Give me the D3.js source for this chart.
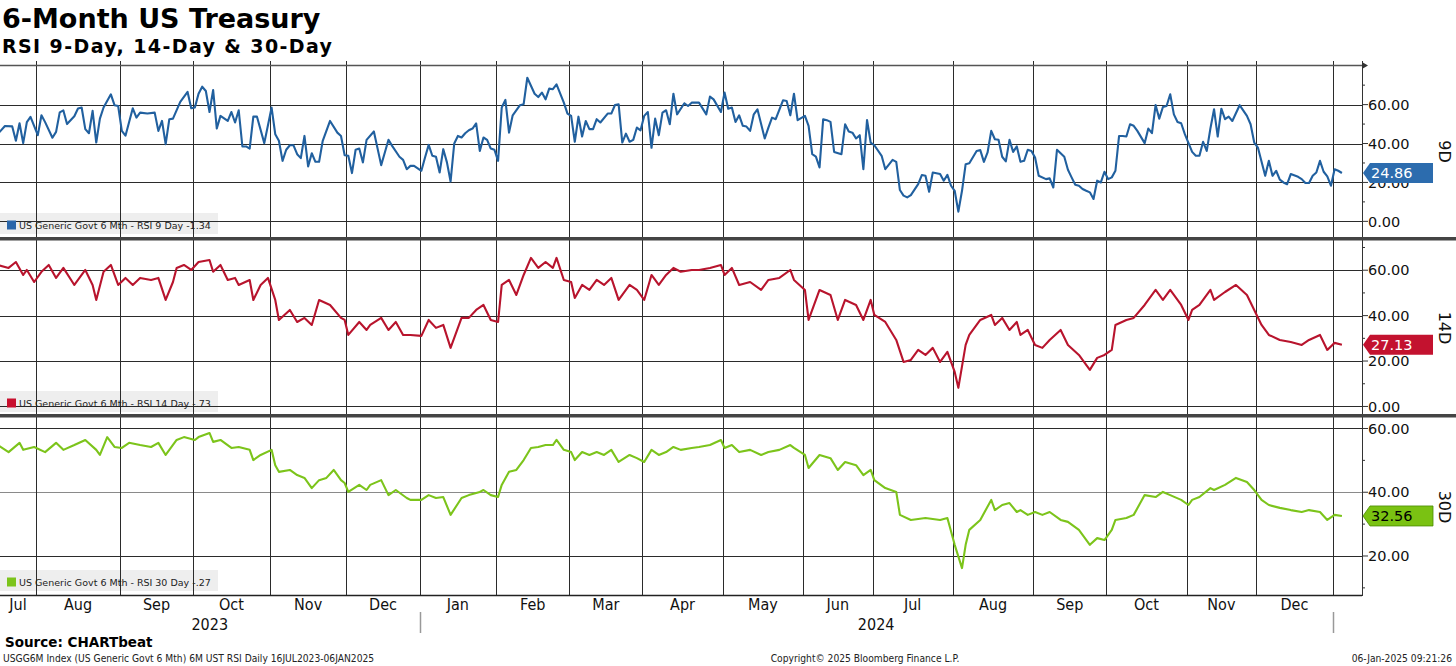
<!DOCTYPE html>
<html><head><meta charset="utf-8">
<script src="https://cdn.jsdelivr.net/npm/d3@7"></script>
<style>html,body{margin:0;padding:0;background:#fff;overflow:hidden}</style>
</head><body><svg id="c" width="1456" height="666"></svg>
<script>
const titleText = "6-Month US Treasury";
const subtitleText = "RSI 9-Day, 14-Day & 30-Day";
const firstSession = "2023-07-17";
const lastSession = "2025-01-06";
const holidays = ["2023-09-04","2023-10-09","2023-11-23","2023-12-25","2024-01-01","2024-01-15","2024-02-19","2024-03-29","2024-05-27","2024-06-19","2024-07-04","2024-09-02","2024-10-14","2024-11-11","2024-11-28","2024-12-25","2025-01-01"];
const monthNames = ["Jan","Feb","Mar","Apr","May","Jun","Jul","Aug","Sep","Oct","Nov","Dec"];

// [trading-session number since 17 Jul 2023, RSI value]
const rsi9 = [[0,44.8],[2,49],[4,48.8],[5,41.4],[6,50.4],[7,40.2],[8,51],[9,53.7],[11,44.3],[12,54.5],[13,51],[15,43],[16,46],[17,56],[18,57],[19,50],[21,54],[22,58],[23,58.5],[24,47.4],[25,45.3],[26,56.8],[27,40.5],[28,52.8],[29,58.5],[31,65.3],[32,59.7],[33,59.3],[34,46.5],[35,44],[37,58.1],[38,53.3],[39,55.9],[41,55.4],[43,55.9],[44,46.5],[45,51.6],[46,39.7],[47,52.5],[48,52.8],[50,61.4],[52,66.5],[53,58.1],[54,58.5],[55,65.6],[56,69.2],[57,67],[58,56.2],[59,67.5],[60,47.7],[61,54.2],[63,51.6],[64,56.2],[65,50.8],[66,57.1],[67,38.5],[68,38.5],[69,37.4],[70,53.8],[71,53.8],[73,40.2],[75,58.5],[76,44.8],[77,41.4],[78,31.1],[79,36.8],[80,39.1],[81,39.1],[82,34.5],[83,32.5],[84,43.9],[85,28.2],[86,35],[87,30.6],[88,30.6],[89,41.4],[91,51.6],[93,45.6],[94,43.9],[95,34],[96,33.7],[97,24.8],[98,36.8],[99,37.4],[100,30.3],[101,41.9],[103,46.2],[105,28.9],[106,35.4],[107,41.9],[108,38.8],[110,33.2],[111,31.6],[112,26.8],[113,28.5],[114,28.5],[116,26],[117,32.8],[118,39.3],[119,33.7],[120,33.2],[121,25.1],[122,37.1],[123,30.3],[124,20.5],[125,40],[126,43.9],[127,43.1],[128,45.3],[129,46.8],[130,47.7],[131,50.3],[132,36.2],[133,43.1],[134,41.9],[135,37.4],[136,36.8],[137,31.1],[138,58.5],[139,62.4],[140,45.6],[141,54.5],[143,59.7],[144,60.2],[145,73.8],[147,65.6],[148,63.9],[149,66.2],[150,62.7],[151,68.2],[152,67.9],[153,70.4],[155,61],[156,55.4],[157,54.2],[158,40.9],[159,53.8],[160,43.6],[161,51.6],[162,47.4],[163,47.4],[164,52.5],[165,50.8],[167,55.4],[168,55.4],[169,59.8],[170,60.2],[171,40.5],[172,45.1],[173,40.9],[174,41.9],[175,48.2],[176,46.8],[177,54.2],[178,56.2],[179,37.8],[180,52.8],[181,44.3],[182,55.9],[183,57.1],[184,49.9],[185,65.6],[186,55],[188,60.7],[189,59.3],[190,61],[192,61],[194,55],[195,64.1],[196,62.7],[198,56.2],[199,66.2],[200,57.9],[201,58.5],[202,51.1],[203,54.5],[204,49.1],[205,48.7],[206,46.5],[207,55],[208,57.6],[210,42.6],[211,48.2],[212,53.3],[213,52.5],[215,62.2],[216,61.9],[217,54.5],[218,65.6],[219,52],[221,54.2],[222,49.1],[223,34.5],[224,33.3],[225,27.7],[226,52.5],[227,52],[228,51.1],[229,35.7],[231,34.5],[232,49.9],[233,46.2],[234,45.6],[235,42.6],[236,44.3],[237,26.8],[238,52.1],[239,40.5],[240,39.1],[242,33.7],[243,26.8],[245,31.6],[246,30.6],[247,16.1],[248,13.2],[249,12.3],[250,13.5],[252,19.1],[253,23.8],[254,23.4],[255,15.2],[256,25.1],[258,24.3],[259,20.9],[260,23.9],[261,18.3],[262,15.7],[263,5],[264,15.7],[265,29.4],[266,29.9],[268,36.2],[269,36.6],[270,30.6],[271,35.4],[272,46.5],[273,42.2],[274,41.9],[275,33.2],[276,30.8],[277,41.9],[278,35.7],[279,38.5],[280,30.6],[281,31.1],[282,36.8],[283,36.2],[284,32.8],[285,23.4],[287,21.7],[288,22.1],[289,17.4],[290,36.8],[292,33.2],[293,26.5],[294,22.6],[295,18.8],[296,18.3],[297,16.6],[298,15.7],[299,14.9],[300,11.5],[301,20.9],[302,20],[303,25.5],[304,21.7],[305,22.6],[306,26],[307,43.9],[308,43.9],[309,43.6],[310,49.9],[311,49.1],[312,46.5],[314,40.2],[315,47.7],[316,45.3],[317,59.8],[318,52.8],[319,58.8],[320,59.3],[321,65.3],[322,55],[323,51.1],[324,50.4],[325,44.8],[327,35.7],[328,33.7],[329,33.7],[330,40.9],[331,36.2],[332,47.7],[333,57.6],[334,43.6],[335,57.9],[336,52.5],[337,53.8],[338,51.6],[340,59.7],[342,54.2],[343,49.9],[344,40.5],[345,37.9],[347,23.4],[348,31.1],[349,23.4],[350,26],[351,21.4],[352,20],[353,19.1],[354,24.3],[356,22.9],[357,21.7],[358,19.7],[359,19.7],[360,23.4],[361,25.1],[362,31.1],[363,25.5],[364,23.1],[365,18.3],[366,26.8],[367,26],[368,24.86]];

const rsi14 = [[0,62.3],[3,61],[5,63.6],[7,57.9],[8,60.1],[10,54.8],[12,59.3],[14,62.3],[16,56.6],[18,61],[21,53.5],[24,60.1],[26,53.5],[27,46.9],[29,59.3],[31,62.3],[33,53.5],[35,56.6],[37,53.5],[39,56.6],[42,55.7],[44,56.6],[46,46.9],[48,54.8],[49,61],[51,62.3],[53,60.1],[55,63.6],[58,64.5],[59,59.3],[61,62.3],[63,55.7],[65,56.6],[66,53.5],[69,55.7],[70,46.9],[72,53.5],[74,56.6],[76,46.9],[77,38.1],[80,42.5],[82,37.2],[84,39],[86,35.9],[88,46.9],[91,44.7],[94,39],[95,38.1],[96,31.5],[99,37.2],[101,33.7],[102,35.9],[105,39],[107,33.7],[109,37.2],[111,31.5],[113,31.5],[116,31.1],[118,38.1],[120,34.6],[122,35.9],[124,25.8],[127,39],[129,39],[131,42.5],[133,44.7],[135,38.1],[137,37.2],[138,53.5],[140,55.7],[142,49.1],[144,57.9],[146,65.4],[148,61],[150,63.6],[152,61],[153,65.4],[155,55.7],[157,54.8],[158,47.8],[160,53.5],[162,51.3],[164,55.7],[166,53.5],[168,56.6],[170,46.9],[173,53.5],[175,51.3],[177,46.9],[179,57.9],[181,53.5],[183,57.9],[185,61],[187,59.3],[190,60.1],[192,60.1],[195,61],[198,62.3],[199,57.9],[201,61],[203,53.5],[206,54.8],[209,51.3],[211,55.7],[214,56.6],[217,60.1],[218,55.7],[221,51.3],[222,38.1],[225,51.3],[228,49.1],[230,38.1],[232,46.9],[235,44.7],[237,38.1],[239,46.9],[240,40.3],[243,37.2],[246,29.3],[248,19.6],[250,20.5],[252,24.9],[254,22.7],[256,25.8],[258,19.6],[260,24],[262,15.2],[263,8.2],[265,27.1],[266,31.5],[269,38.1],[272,40.3],[273,35.9],[275,39],[277,33.7],[279,37.2],[280,31.5],[282,33.7],[284,27.1],[286,25.8],[288,29.3],[291,33.7],[293,27.1],[296,22.7],[299,16.1],[301,21.4],[303,22.7],[305,24.9],[306,35.9],[309,38.1],[311,39],[314,44.7],[317,51.3],[319,46.9],[321,51.3],[324,44.7],[326,38.1],[327,42.5],[329,44.7],[332,51.3],[333,46.9],[336,50.4],[339,53.5],[342,49.1],[344,42.5],[346,35.9],[348,31.5],[351,29.3],[354,28.4],[357,27.1],[359,29.3],[362,31.5],[364,24.9],[366,28],[368,27.13]];

const rsi30 = [[0,54.8],[3,52.6],[6,55.5],[7,53.3],[10,54.2],[13,52.6],[16,55.5],[18,53.3],[21,54.8],[24,56.4],[27,53.3],[28,51.7],[30,57.3],[32,54.2],[34,53.9],[36,55.5],[39,54.8],[42,54.2],[44,55.5],[46,51.7],[49,56.4],[51,57.3],[54,56.4],[55,57.3],[58,58.6],[59,55.8],[61,56.4],[64,53.9],[66,54.2],[69,53.3],[70,50.1],[72,51.7],[75,53.3],[76,48.5],[77,46.4],[80,47],[82,45.4],[84,44.5],[86,41.3],[88,43.8],[90,44.5],[92,47],[94,43.8],[95,42.9],[96,40.1],[99,42.3],[101,40.7],[102,42.3],[105,43.8],[107,39.1],[109,40.7],[112,38.2],[113,37.6],[116,37.6],[118,39.1],[120,38.2],[122,38.5],[124,32.9],[127,38.2],[129,39.1],[132,40.1],[133,40.7],[135,39.1],[137,38.5],[138,42.3],[140,46.4],[142,47],[144,50.1],[146,53.9],[148,54.2],[150,54.8],[152,54.8],[153,56.4],[155,53.3],[157,52.6],[158,50.1],[160,52.6],[162,51.7],[164,52.6],[166,51.7],[168,53.3],[170,49.5],[173,51.7],[175,50.7],[177,49.5],[179,53.3],[181,51.7],[183,52.6],[185,54.2],[187,53.3],[190,53.9],[192,54.2],[195,54.8],[198,56.4],[199,53.9],[201,54.8],[203,52.6],[206,53.3],[209,51.7],[211,52.6],[214,53.3],[217,54.8],[218,53.9],[221,51.7],[222,47.6],[225,51.7],[228,50.7],[230,47],[232,49.5],[235,48.5],[237,45.4],[239,47],[240,43.8],[243,41.3],[246,40.1],[247,32.9],[250,31.3],[254,31.9],[258,31.3],[260,31.9],[262,23.5],[264,16.2],[265,23.5],[266,28.2],[269,31.3],[272,37.6],[273,34.4],[275,36],[277,36.6],[279,33.8],[280,34.4],[282,32.9],[284,33.8],[286,32.9],[288,33.8],[291,31.3],[293,30.7],[296,28.2],[299,23.5],[301,25.6],[303,25],[305,28.2],[306,31.3],[309,31.9],[311,32.9],[314,39.1],[317,38.5],[319,40.1],[321,39.1],[324,37.6],[326,36],[327,37.6],[329,38.5],[332,41.3],[333,40.7],[336,42.3],[339,44.5],[342,43.2],[344,40.7],[346,37.6],[348,36],[351,35.1],[354,34.4],[357,33.8],[359,34.4],[362,33.8],[364,31.3],[366,32.9],[368,32.56]];

const seriesNames = ["US Generic Govt 6 Mth - RSI 9 Day -1.34","US Generic Govt 6 Mth - RSI 14 Day -.73","US Generic Govt 6 Mth - RSI 30 Day -.27"];
const sideLabels = ["9D","14D","30D"];
const lastValues = [24.86, 27.13, 32.56];
const majorTicks = [[0,20,40,60],[0,20,40,60],[20,40,60]];
const minorTicksArr = [[10,30,50,70],[10,30,50,70],[10,30,50]];
const sourceText = "Source: CHARTbeat";
const footLeft = "USGG6M Index (US Generic Govt 6 Mth) 6M UST RSI  Daily 16JUL2023-06JAN2025";
const footMid = "Copyright\u00A9 2025 Bloomberg Finance L.P.";
const footRight = "06-Jan-2025 09:21:26";

// ---------- build trading calendar ----------
const hol = new Set(holidays);
const sessions = [];
for (let d = new Date(firstSession + "T00:00:00Z"); d <= new Date(lastSession + "T00:00:00Z"); d.setUTCDate(d.getUTCDate() + 1)) {
  const wd = d.getUTCDay();
  const iso = d.toISOString().slice(0, 10);
  if (wd > 0 && wd < 6 && !hol.has(iso)) sessions.push(new Date(d.getTime()));
}

const svg = d3.select("#c");
const W = 1456, plotR = 1362, plotBottom = 595;
const x = d3.scaleLinear().domain([0.65, 373.5]).range([0, plotR]);

const panels = [
  {data: rsi9, top: 65, bottom: 238, domain: [-8.56, 80.36], color: "#21609f", badge: "#2c6cae", badgeText: "#fff", sq: "#2a66aa"},
  {data: rsi14, top: 240, bottom: 416, domain: [-4.2, 73.3], color: "#b8142d", badge: "#c3122f", badgeText: "#fff", sq: "#c8102e"},
  {data: rsi30, top: 419, bottom: 595, domain: [7.76, 62.98], color: "#7cc41b", badge: "#7ac212", badgeText: "#000", sq: "#7cc41b"}
];

const bounds = [];
sessions.forEach((d, i) => { if (i > 0 && d.getUTCMonth() !== sessions[i - 1].getUTCMonth()) bounds.push({i: i - 0.5, d}); });

svg.append("text").attr("x", 2).attr("y", 28).attr("font-family", "DejaVu Sans").attr("font-weight", "bold")
  .attr("font-size", 27).attr("fill", "#000").text(titleText);
svg.append("text").attr("x", 2).attr("y", 53).attr("font-family", "DejaVu Sans").attr("font-weight", "bold")
  .attr("font-size", 19).attr("fill", "#000").attr("textLength", 330).attr("lengthAdjust", "spacing").text(subtitleText);

const defs = svg.append("defs");

panels.forEach((p, k) => {
  const y = d3.scaleLinear().domain(p.domain).range([p.bottom, p.top]);
  p.y = y;
  const g = svg.append("g");
  g.append("rect").attr("x", 0).attr("y", p.bottom - 25).attr("width", 218).attr("height", 21).attr("fill", "#eeeeee");
  g.selectAll("line.h").data(majorTicks[k]).join("line")
    .attr("x1", 0).attr("x2", plotR).attr("y1", d => Math.round(y(d)) + 0.5).attr("y2", d => Math.round(y(d)) + 0.5)
    .attr("stroke", (d) => (k === 2 && d === 40) ? "#8a8a8a" : "#2b2b2b").attr("stroke-width", 1);
  defs.append("clipPath").attr("id", "clip" + k).append("rect").attr("x", 0).attr("y", p.top).attr("width", plotR).attr("height", p.bottom - p.top);
});

svg.selectAll("line.v").data(bounds).join("line")
  .attr("x1", d => Math.round(x(d.i)) + 0.5).attr("x2", d => Math.round(x(d.i)) + 0.5)
  .attr("y1", 61).attr("y2", plotBottom).attr("stroke", "#2b2b2b").attr("stroke-width", 1);

svg.append("line").attr("x1", 0).attr("x2", plotR).attr("y1", 65.5).attr("y2", 65.5).attr("stroke", "#555").attr("stroke-width", 1.5);
svg.append("line").attr("x1", 0).attr("x2", plotR).attr("y1", plotBottom + 0.5).attr("y2", plotBottom + 0.5).attr("stroke", "#222").attr("stroke-width", 1.5);
svg.append("line").attr("x1", plotR + 0.5).attr("x2", plotR + 0.5).attr("y1", 61).attr("y2", plotBottom + 1).attr("stroke", "#333").attr("stroke-width", 1);
svg.append("path").attr("d", `M${plotR},62 L${plotR + 6},65.5 L${plotR},69 Z`).attr("fill", "#333");

[238, 415].forEach(yy => svg.append("rect").attr("x", 0).attr("y", yy - 1).attr("width", W).attr("height", 3.5).attr("fill", "#444"));

panels.forEach((p, k) => {
  const y = p.y;
  const g = svg.append("g");
  g.append("path").datum(p.data).attr("clip-path", `url(#clip${k})`)
    .attr("fill", "none").attr("stroke", p.color).attr("stroke-width", 2.1).attr("stroke-linejoin", "round")
    .attr("d", d3.line().x(d => x(d[0])).y(d => y(d[1])));
  g.append("rect").attr("x", 7).attr("y", p.bottom - 17.5).attr("width", 9).attr("height", 9).attr("fill", p.sq);
  g.append("text").attr("x", 19).attr("y", p.bottom - 9.5).attr("font-family", "DejaVu Sans").attr("font-size", 9.5)
    .attr("fill", "#222").text(seriesNames[k]);
  g.selectAll("line.mj").data(majorTicks[k]).join("line")
    .attr("x1", plotR).attr("x2", plotR + 6).attr("y1", d => y(d)).attr("y2", d => y(d)).attr("stroke", "#333");
  g.selectAll("line.mn").data(minorTicksArr[k]).join("line")
    .attr("x1", plotR).attr("x2", plotR + 3).attr("y1", d => y(d)).attr("y2", d => y(d)).attr("stroke", "#333");
  g.selectAll("text.tl").data(majorTicks[k]).join("text")
    .attr("x", plotR + 6).attr("y", d => y(d) + 5.2).attr("font-family", "DejaVu Sans").attr("font-size", 14.5)
    .attr("fill", "#111").text(d => d3.format(".2f")(d));
  const cy = y(lastValues[k]);
  g.append("path").attr("d", `M${plotR + 1},${cy} L${plotR + 8},${cy - 10} L${plotR + 71},${cy - 10} L${plotR + 71},${cy + 10} L${plotR + 8},${cy + 10} Z`)
    .attr("fill", p.badge).attr("stroke", k === 2 ? "#4a8a00" : "none").attr("stroke-width", 0.8);
  g.append("text").attr("x", plotR + 9).attr("y", cy + 5.3).attr("font-family", "DejaVu Sans").attr("font-size", 14.5)
    .attr("fill", p.badgeText).text(d3.format(".2f")(lastValues[k]));
  g.append("text").attr("transform", `translate(1445,${(p.top + p.bottom) / 2}) rotate(90)`)
    .attr("text-anchor", "middle").attr("dy", "0.35em").attr("font-family", "DejaVu Sans").attr("font-size", 16)
    .attr("fill", "#111").text(sideLabels[k]);
});

const monthSegs = [];
let segStart = x.domain()[0], segMonth = sessions[0], segCount = 0;
sessions.forEach((d, i) => {
  if (i > 0 && d.getUTCMonth() !== sessions[i - 1].getUTCMonth()) {
    monthSegs.push({a: segStart, b: i - 0.5, d: segMonth, n: segCount});
    segStart = i - 0.5; segMonth = d; segCount = 0;
  }
  segCount++;
});
monthSegs.push({a: segStart, b: sessions.length - 0.5, d: segMonth, n: segCount});
svg.selectAll("text.m").data(monthSegs.filter(s => s.n >= 5)).join("text")
  .attr("x", s => (x(s.a) + x(s.b)) / 2).attr("y", 610).attr("text-anchor", "middle")
  .attr("font-family", "DejaVu Sans Condensed, DejaVu Sans").attr("font-size", 16).attr("fill", "#111")
  .text(s => monthNames[s.d.getUTCMonth()]);

const yearBounds = bounds.filter(b => b.d.getUTCMonth() === 0);
const yearEdges = [x.domain()[0], ...yearBounds.map(b => b.i)];
const years = [sessions[0].getUTCFullYear(), ...yearBounds.map(b => b.d.getUTCFullYear())];
svg.selectAll("text.yr").data(years.slice(0, yearEdges.length - 1)).join("text")
  .attr("x", (d, i) => (x(yearEdges[i]) + x(yearEdges[i + 1])) / 2).attr("y", 629.5).attr("text-anchor", "middle")
  .attr("font-family", "DejaVu Sans Condensed, DejaVu Sans").attr("font-size", 16).attr("fill", "#111").text(d => d);
svg.selectAll("line.ys").data(yearBounds).join("line")
  .attr("x1", d => Math.round(x(d.i)) + 0.5).attr("x2", d => Math.round(x(d.i)) + 0.5)
  .attr("y1", 612).attr("y2", 633).attr("stroke", "#999").attr("stroke-width", 1.5);

svg.append("text").attr("x", 5).attr("y", 647).attr("font-family", "DejaVu Sans").attr("font-weight", "bold")
  .attr("font-size", 13.5).attr("fill", "#000").text(sourceText);
svg.append("text").attr("x", 3).attr("y", 662).attr("font-family", "DejaVu Sans Condensed, DejaVu Sans")
  .attr("font-size", 10.2).attr("fill", "#222").text(footLeft);
svg.append("text").attr("x", 865).attr("y", 662).attr("text-anchor", "middle").attr("font-family", "DejaVu Sans Condensed, DejaVu Sans")
  .attr("font-size", 10.2).attr("fill", "#222").text(footMid);
svg.append("text").attr("x", 1452).attr("y", 662).attr("text-anchor", "end").attr("font-family", "DejaVu Sans Condensed, DejaVu Sans")
  .attr("font-size", 10.2).attr("fill", "#222").text(footRight);
</script></body></html>
